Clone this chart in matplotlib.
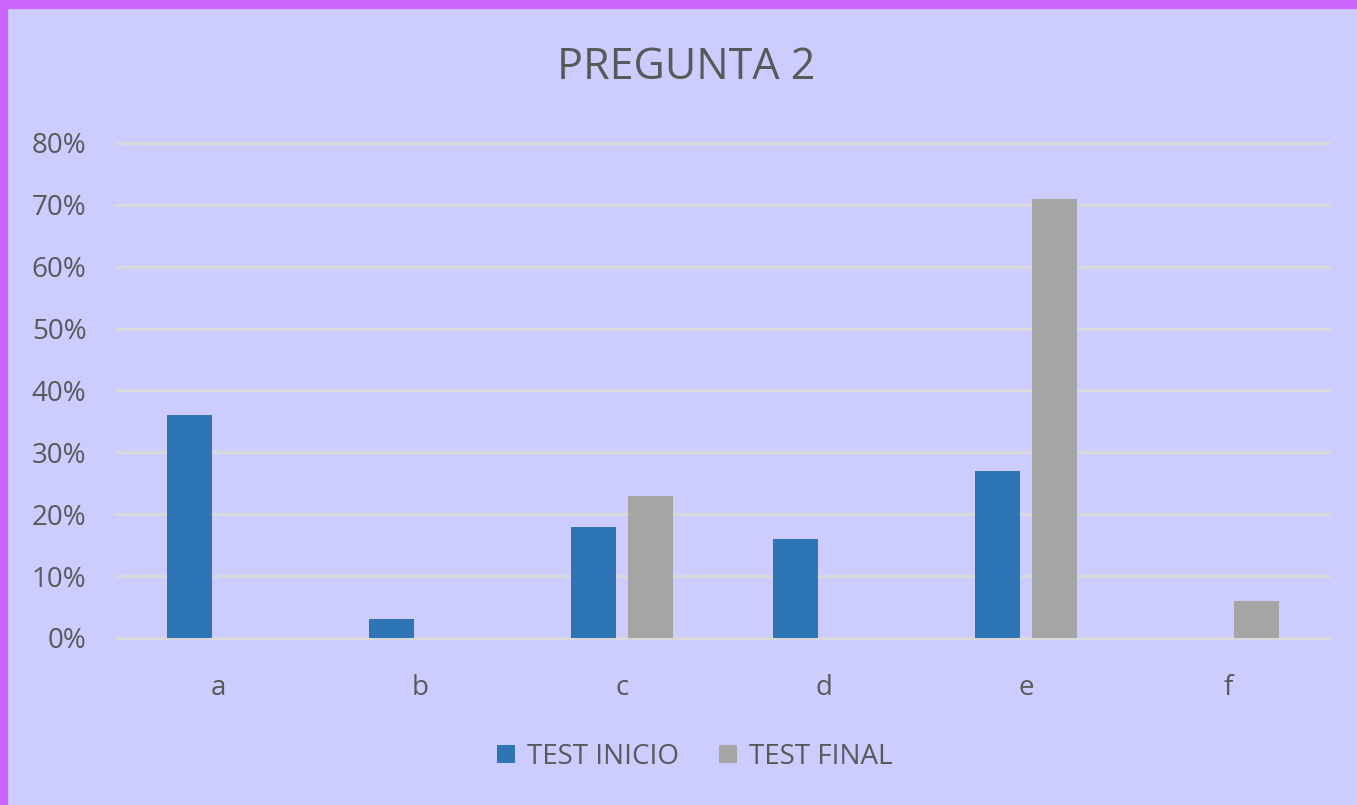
import matplotlib.pyplot as plt
import numpy as np
from matplotlib.patches import Rectangle
from matplotlib.ticker import FuncFormatter

categories = ["a", "b", "c", "d", "e", "f"]
test_inicio = [0.36, 0.03, 0.18, 0.16, 0.27, 0.0]
test_final = [0.0, 0.0, 0.23, 0.0, 0.71, 0.06]
series_names = ["TEST INICIO", "TEST FINAL"]

plt.rcParams["font.family"] = ["Open Sans", "DejaVu Sans"]
text_color = "#595959"
bg = "#CCCCFF"

fig = plt.figure(figsize=(13.57, 8.05), dpi=100, facecolor=bg)
# purple frame at the top and left edges
fig.patches.append(Rectangle((0, 0.99), 1, 0.01, transform=fig.transFigure,
                             color="#CC66FF", zorder=0))
fig.patches.append(Rectangle((0, 0), 0.0052, 1, transform=fig.transFigure,
                             color="#CC66FF", zorder=0))

ax = fig.add_axes([0.0862, 0.2075, 0.8932, 0.6149])
ax.set_facecolor(bg)

x = np.arange(len(categories))
w = 0.223
off = 0.143
b1 = ax.bar(x - off, test_inicio, w, color="#2E75B6", label=series_names[0], zorder=3)
b2 = ax.bar(x + off, test_final, w, color="#A5A5A5", label=series_names[1], zorder=3)

ax.set_xlim(-0.5, len(categories) - 0.5)
ax.set_ylim(0, 0.8)
ax.set_yticks(np.arange(0, 0.81, 0.1))
ax.yaxis.set_major_formatter(FuncFormatter(lambda v, p: f"{v * 100:.0f}%"))
ax.set_xticks(x)
ax.set_xticklabels(categories)
ax.grid(axis="y", color="#D9D9D9", linewidth=2.2, zorder=0)
ax.set_axisbelow(True)
# don't let the 0% and 80% lines get cut in half by the axes edge
for gl in ax.get_ygridlines():
    gl.set_clip_on(False)
for s in ax.spines.values():
    s.set_visible(False)
ax.tick_params(length=0, colors=text_color, labelsize=20)
ax.tick_params(axis="y", pad=22)
ax.tick_params(axis="x", pad=26)

fig.text(0.506, 0.9155, "PREGUNTA 2", ha="center", va="center",
         fontsize=31, color=text_color)

leg = fig.legend(handles=[b1, b2], loc="center", bbox_to_anchor=(0.512, 0.06),
                 ncol=2, frameon=False, fontsize=20, handlelength=0.65,
                 handleheight=0.65, handletextpad=0.43, columnspacing=1.45)
for t in leg.get_texts():
    t.set_color(text_color)

fig.savefig("out.png", dpi=100, facecolor=bg)
